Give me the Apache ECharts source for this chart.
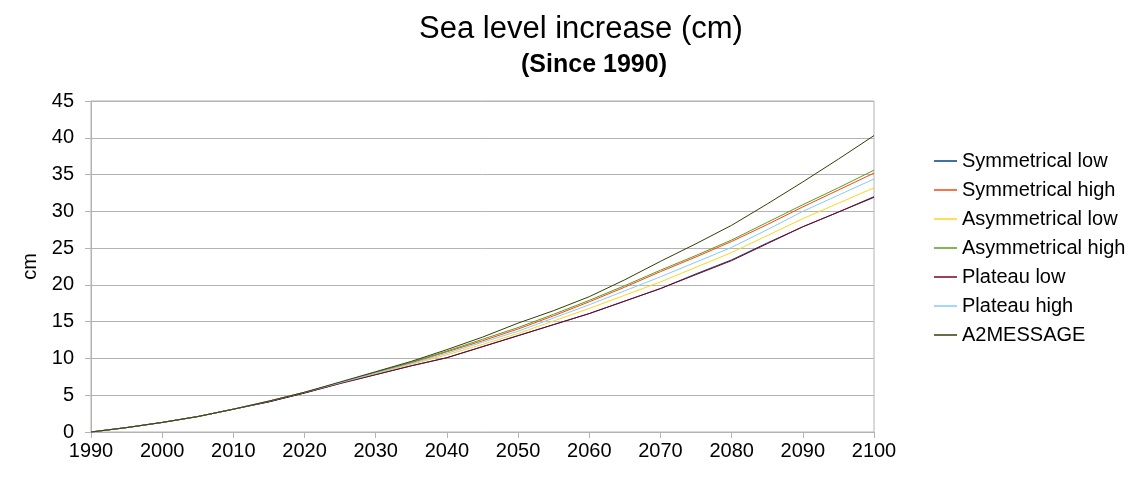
<!DOCTYPE html>
<html>
<head>
<meta charset="utf-8">
<script src="https://cdn.jsdelivr.net/npm/echarts@6/dist/echarts.min.js"></script>
<style>
  html, body { margin: 0; padding: 0; background: #fff; }
  #chart { width: 1129px; height: 479px; }
</style>
</head>
<body>
<div id="chart"></div>
<script>
var years = [1990, 1995, 2000, 2005, 2010, 2015, 2020, 2025, 2030, 2035, 2040, 2045,
             2050, 2055, 2060, 2065, 2070, 2075, 2080, 2085, 2090, 2095, 2100];

var symLow   = [0, 0.6, 1.3, 2.1, 3.1, 4.1, 5.3, 6.6, 7.8, 9.0, 10.1, 11.6, 13.1, 14.6, 16.1, 17.8, 19.5, 21.5, 23.4, 25.7, 27.9, 29.9, 32.0];
var symHigh  = [0, 0.6, 1.3, 2.1, 3.1, 4.2, 5.4, 6.7, 8.1, 9.4, 10.9, 12.4, 14.0, 15.8, 17.7, 19.7, 21.8, 23.8, 25.9, 28.2, 30.6, 32.9, 35.2];
var asymLow  = [0, 0.6, 1.3, 2.1, 3.1, 4.2, 5.4, 6.6, 7.9, 9.2, 10.5, 11.9, 13.4, 15.1, 16.8, 18.6, 20.4, 22.4, 24.4, 26.7, 29.0, 31.1, 33.2];
var asymHigh = [0, 0.6, 1.3, 2.1, 3.1, 4.2, 5.4, 6.7, 8.1, 9.5, 11.0, 12.6, 14.2, 16.0, 17.9, 19.9, 22.0, 24.0, 26.1, 28.5, 30.9, 33.2, 35.6];
var platLow  = [0, 0.6, 1.3, 2.1, 3.1, 4.1, 5.3, 6.6, 7.8, 9.0, 10.1, 11.6, 13.1, 14.6, 16.1, 17.8, 19.5, 21.4, 23.3, 25.6, 27.9, 29.9, 31.9];
var platHigh = [0, 0.6, 1.3, 2.1, 3.1, 4.2, 5.4, 6.7, 8.0, 9.3, 10.7, 12.2, 13.7, 15.5, 17.3, 19.2, 21.1, 23.1, 25.1, 27.5, 30.0, 32.2, 34.4];
var a2message = [0, 0.6, 1.3, 2.1, 3.1, 4.2, 5.4, 6.8, 8.2, 9.6, 11.2, 12.9, 14.8, 16.5, 18.4, 20.7, 23.2, 25.6, 28.1, 31.0, 34.0, 37.1, 40.3];

var seriesNames = ['Symmetrical low', 'Symmetrical high', 'Asymmetrical low', 'Asymmetrical high',
                   'Plateau low', 'Plateau high', 'A2MESSAGE'];
var seriesValues = [symLow, symHigh, asymLow, asymHigh, platLow, platHigh, a2message];
var colors = ['#004586', '#ff420e', '#ffd320', '#579d1c', '#7e0021', '#83caff', '#314004'];

var FONT = '"Liberation Sans", Arial, sans-serif';

var chart = echarts.init(document.getElementById('chart'));

var series = seriesNames.map(function (name, i) {
  return {
    name: name,
    type: 'line',
    symbol: 'none',
    color: colors[i],
    lineStyle: { width: 1 },
    data: years.map(function (y, k) { return [y, seriesValues[i][k]]; })
  };
});

var option = {
  animation: false,
  textStyle: { fontFamily: FONT },
  title: [
    {
      text: 'Sea level increase (cm)',
      left: 576, top: 9, textAlign: 'center',
      textStyle: { fontFamily: FONT, fontSize: 31, fontWeight: 'normal', color: '#000' }
    },
    {
      text: '(Since 1990)',
      left: 589, top: 48, textAlign: 'center',
      textStyle: { fontFamily: FONT, fontSize: 25, fontWeight: 'bold', color: '#000' }
    }
  ],
  legend: {
    orient: 'vertical',
    left: 929, top: 146,
    icon: 'rect',
    itemWidth: 23, itemHeight: 1.5,
    itemGap: 9,
    data: seriesNames,
    textStyle: { fontFamily: FONT, fontSize: 20, lineHeight: 20, color: '#000' }
  },
  grid: {
    left: 91, right: 255, top: 101, bottom: 47,
    show: true, borderColor: '#b3b3b3', borderWidth: 1, backgroundColor: 'transparent'
  },
  xAxis: {
    type: 'value',
    min: 1990, max: 2100, interval: 10,
    axisLine: { lineStyle: { color: '#b3b3b3' } },
    axisTick: { show: true, length: 6, lineStyle: { color: '#b3b3b3' } },
    axisLabel: {
      fontFamily: FONT, fontSize: 20, color: '#000', margin: 9,
      formatter: function (v) { return String(v); }
    },
    splitLine: { show: false }
  },
  yAxis: {
    type: 'value',
    min: 0, max: 45, interval: 5,
    name: 'cm',
    nameLocation: 'middle',
    nameRotate: 90,
    nameGap: 43,
    nameTextStyle: { fontFamily: FONT, fontSize: 20, color: '#000' },
    axisLine: { show: true, lineStyle: { color: '#b3b3b3' } },
    axisTick: { show: true, length: 6, lineStyle: { color: '#b3b3b3' } },
    axisLabel: { fontFamily: FONT, fontSize: 20, color: '#000', margin: 17 },
    splitLine: { lineStyle: { color: '#b3b3b3' } }
  },
  series: series
};

chart.setOption(option);
</script>
</body>
</html>
